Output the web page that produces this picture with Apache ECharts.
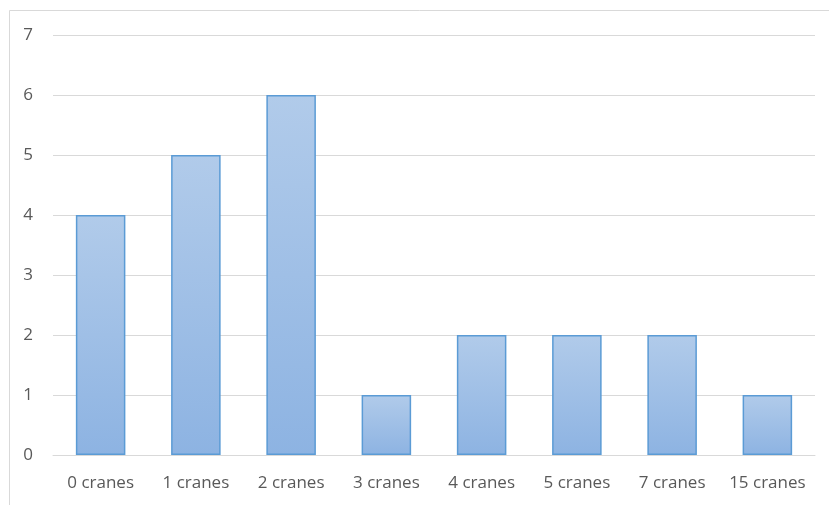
<!DOCTYPE html>
<html><head><meta charset="utf-8">
<script src="https://cdn.jsdelivr.net/npm/echarts@6/dist/echarts.min.js"></script>
<style>html,body{margin:0;padding:0;background:#fff}#c{width:829px;height:505px}</style>
</head><body><div id="c"></div>
<script>
var categories = ["0 cranes","1 cranes","2 cranes","3 cranes","4 cranes","5 cranes","7 cranes","15 cranes"];
var counts = [4,5,6,1,2,2,2,1];
var yTicks = {min:0, max:7, interval:1};

var chart = echarts.init(document.getElementById('c'), null, {renderer:'canvas'});
chart.setOption({
  animation:false,
  backgroundColor:'#fff',
  graphic:[{type:'rect', shape:{x:9.5,y:10.5,width:840,height:520}, style:{fill:'none', stroke:'#d9d9d9', lineWidth:1}, silent:true}],
  grid:{left:53, right:14, top:35, bottom:50, containLabel:false},
  xAxis:{type:'category', data:categories,
    axisLine:{show:true, lineStyle:{color:'#d9d9d9'}}, axisTick:{show:false},
    axisLabel:{interval:0, color:'#595959', fontFamily:'Open Sans', fontSize:17, margin:20}},
  yAxis:{type:'value', min:yTicks.min, max:yTicks.max, interval:yTicks.interval,
    axisLine:{show:false}, axisTick:{show:false},
    splitLine:{lineStyle:{color:'#d9d9d9', width:1}},
    axisLabel:{color:'#595959', fontFamily:'Open Sans', fontSize:17, margin:20}},
  series:[{type:'bar', data:counts, barWidth:'52%',
    itemStyle:{borderColor:'#5b9bd5', borderWidth:1.5,
      color:new echarts.graphic.LinearGradient(0,0,0,1,[{offset:0,color:'#b1cbea'},{offset:1,color:'#8db3e2'}])}}]
});
</script></body></html>
